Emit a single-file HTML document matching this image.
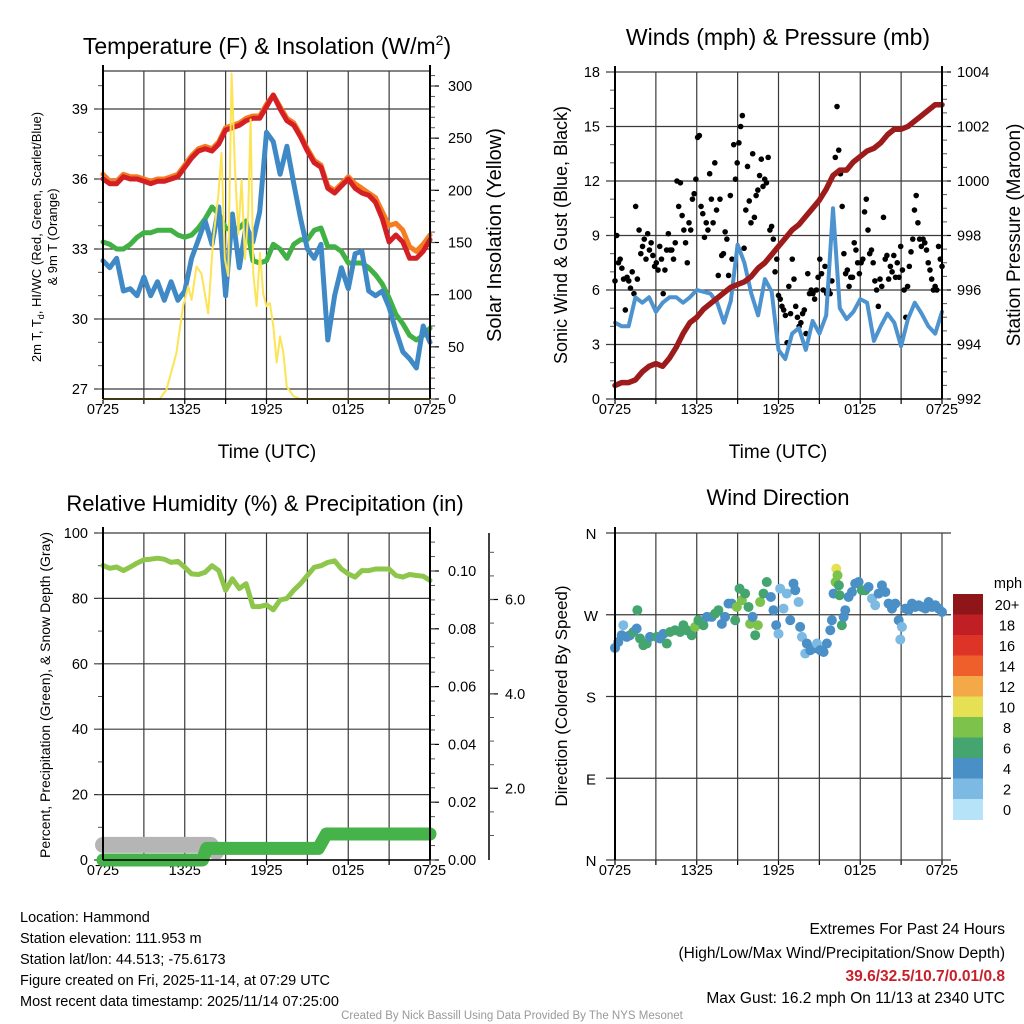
<!DOCTYPE html>
<html><head><meta charset="utf-8"><style>
html,body{margin:0;padding:0;background:#fff;}
svg{display:block;font-family:"Liberation Sans",sans-serif;}
</style></head><body>
<svg id="fig" width="1024" height="1024" viewBox="0 0 1024 1024" xmlns="http://www.w3.org/2000/svg">
<rect x="0" y="0" width="1024" height="1024" fill="#fff"/>
<g id="tl"></g>
<g id="tr"></g>
<g id="bl"></g>
<g id="br"></g>
<g id="txt">
<text x="20" y="922" font-size="14.5">Location: Hammond</text>
<text x="20" y="943" font-size="14.5">Station elevation: 111.953 m</text>
<text x="20" y="964" font-size="14.5">Station lat/lon: 44.513; -75.6173</text>
<text x="20" y="985" font-size="14.5">Figure created on Fri, 2025-11-14, at 07:29 UTC</text>
<text x="20" y="1006" font-size="14.5">Most recent data timestamp: 2025/11/14 07:25:00</text>
<text x="1005" y="934" font-size="15.5" text-anchor="end">Extremes For Past 24 Hours</text>
<text x="1005" y="958" font-size="15.5" text-anchor="end">(High/Low/Max Wind/Precipitation/Snow Depth)</text>
<text x="1005" y="981" font-size="15.5" text-anchor="end" font-weight="bold" fill="#c8202a">39.6/32.5/10.7/0.01/0.8</text>
<text x="1005" y="1003" font-size="15.5" text-anchor="end">Max Gust: 16.2 mph On 11/13 at 2340 UTC</text>
<text x="512" y="1019" font-size="11.5" text-anchor="middle" fill="#999">Created By Nick Bassill Using Data Provided By The NYS Mesonet</text>
</g>
</svg>
<script>
// ---- data (hours since 0725 UTC, half-hour steps unless noted) ----
const timeTicks = ["0725","1325","1925","0125","0725"];
const tempRed = [36.0,35.8,35.8,36.1,36.0,36.0,35.9,35.8,35.9,35.9,36.0,36.1,36.5,36.9,37.2,37.3,37.2,37.5,38.1,38.2,38.3,38.5,38.6,38.6,39.1,39.6,39.0,38.5,38.3,37.8,37.2,36.7,36.5,35.6,35.4,35.7,36.0,35.6,35.4,35.3,35.0,34.3,33.3,33.6,33.3,32.6,32.6,32.9,33.4];
const tempOrange = [36.2,35.9,35.9,36.2,36.1,36.1,36.0,35.9,36.0,36.0,36.1,36.2,36.6,37.0,37.3,37.4,37.3,37.6,38.2,38.3,38.4,38.6,38.7,38.7,39.2,39.6,39.1,38.6,38.4,37.9,37.3,36.8,36.6,35.7,35.5,35.8,36.1,35.8,35.6,35.4,35.2,34.6,34.0,34.1,33.8,33.1,32.9,33.2,33.6];
const tempGreen = [33.3,33.2,33.0,33.0,33.2,33.5,33.7,33.7,33.8,33.8,33.8,33.6,33.5,33.6,33.9,34.3,34.8,34.5,33.9,33.8,33.9,34.2,32.5,32.4,32.5,33.2,33.0,32.6,33.2,33.4,33.4,33.8,33.9,33.1,33.1,32.9,32.4,32.4,32.4,32.2,31.9,31.5,30.9,30.2,29.8,29.3,29.1,29.3,29.6];
const tempBlue = [32.5,32.2,32.6,31.2,31.3,31.0,31.8,31.0,31.6,30.8,31.6,30.8,31.2,32.6,33.4,34.2,33.2,34.8,31.0,34.5,32.2,34.0,33.3,34.6,38.0,37.6,36.2,37.4,35.8,34.3,33.0,32.6,33.2,29.1,31.0,32.2,31.3,32.8,32.9,31.2,31.0,31.2,30.5,29.5,28.6,28.3,27.9,29.7,29.0];
const solarTimes = [0,4.17,4.66,5.39,5.88,6.25,6.5,6.86,7.23,7.72,8.09,8.46,8.7,8.95,9.19,9.44,9.68,9.93,10.17,10.42,10.66,10.83,11.03,11.27,11.52,11.76,12.0,12.25,12.5,12.75,13.0,13.24,13.48,13.97,14.46,24];
const solarVals = [0,0,9,44,89,108,95,127,120,82,153,195,236,134,118,312,222,158,210,134,178,268,120,89,140,101,89,92,70,35,60,44,12,3,0,0];
const windSpeed = [4.2,4.0,4.0,5.6,5.3,5.6,4.8,5.3,5.6,5.6,5.3,5.6,6.0,5.9,5.8,5.3,4.2,5.4,8.5,7.5,5.8,4.6,6.6,5.9,2.7,2.2,3.6,3.9,2.7,4.3,3.6,4.6,10.5,5.0,4.4,4.8,5.5,5.3,3.2,4.0,4.7,4.2,2.9,4.4,5.3,4.7,4.0,3.6,4.8];
const pressure = [992.5,992.6,992.6,992.7,993.0,993.2,993.3,993.2,993.5,993.9,994.4,994.8,995.0,995.3,995.5,995.7,995.9,996.1,996.2,996.3,996.5,996.8,997.0,997.3,997.6,997.9,998.2,998.4,998.7,999.0,999.3,999.7,1000.2,1000.4,1000.4,1000.7,1000.9,1001.1,1001.2,1001.4,1001.7,1001.9,1001.9,1002.0,1002.2,1002.4,1002.6,1002.8,1002.8];
const gusts = [6.5,9.0,7.5,7.7,7.2,6.6,4.9,6.7,6.5,6.1,7.0,5.8,10.6,6.6,9.3,8.0,8.4,8.8,7.7,9.1,8.2,8.6,7.9,7.3,7.5,7.1,8.4,7.7,5.8,7.1,8.2,9.1,8.2,8.2,7.7,8.6,12.0,10.6,11.9,10.1,9.3,8.6,7.5,9.7,9.3,11.0,11.3,12.1,14.4,14.5,10.6,10.2,8.9,9.7,9.3,12.4,11.0,9.7,13.0,10.4,6.8,11.0,7.9,8.0,9.2,8.8,6.8,11.2,7.7,14.0,12.1,13.0,14.1,15.0,15.6,8.3,10.4,12.8,10.9,9.7,13.5,10.0,11.2,11.5,12.3,13.2,11.7,12.1,11.9,13.3,9.3,9.5,8.8,7.0,7.7,5.7,5.5,5.1,4.9,4.6,3.1,6.2,4.7,7.7,6.6,5.1,4.5,4.0,4.2,4.7,4.9,3.6,6.9,5.8,6.0,5.8,5.5,6.0,6.7,7.7,6.9,6.0,7.3,5.8,6.0,5.8,6.5,8.9,13.3,16.1,13.7,12.4,10.6,8.0,6.9,7.1,6.2,6.7,6.7,8.6,8.2,7.5,6.9,7.5,7.7,10.3,11.0,9.3,8.0,8.2,7.5,6.5,6.0,5.1,6.6,6.2,10.0,7.7,7.9,6.6,7.3,7.0,7.9,6.7,7.5,6.7,8.4,7.1,6.0,4.5,6.2,7.3,8.1,8.8,10.4,11.2,9.7,8.8,8.4,8.8,8.6,8.2,7.5,7.1,6.6,6.0,6.2,6.0,8.4,7.7,7.3];
const relHum = [90.1,89.2,89.6,88.5,89.6,90.8,91.8,92.0,92.3,92.0,91.0,91.3,89.5,87.5,87.3,88.0,90.0,88.5,82.5,86.0,83.0,84.5,77.5,77.5,78.0,76.5,79.5,80.0,82.5,84.5,87.0,89.5,90.0,91.0,91.5,89.0,87.5,86.5,88.5,88.5,89.0,89.0,89.0,87.0,86.5,87.3,87.0,86.8,85.5];
const precipTimes = [0,7.3,7.6,15.8,16.4,24];
const precipVals = [0,0,0.004,0.004,0.009,0.009];
const snowTimes = [0,7.9,8.3];
const snowVals = [0.8,0.8,0.65];
const dirTimes = [0,0.24,0.49,0.61,0.86,1.1,1.35,1.59,1.64,1.84,2.08,2.33,2.57,3.06,3.31,3.55,3.8,4.04,4.41,4.78,5.02,5.27,5.63,5.88,6.12,6.49,6.74,7.1,7.35,7.59,7.84,8.08,8.33,8.57,8.82,8.94,9.14,9.31,9.55,9.8,9.92,10.1,10.29,10.48,10.65,10.9,11.14,11.44,11.63,11.83,12.0,12.12,12.37,12.61,12.86,13.1,13.23,13.47,13.59,13.72,13.96,14.08,14.33,14.57,14.82,15.06,15.31,15.55,15.8,15.92,16.04,16.19,16.24,16.33,16.43,16.48,16.65,16.78,16.9,17.14,17.39,17.63,17.88,18.12,18.37,18.61,18.86,19.1,19.35,19.59,19.84,20.08,20.33,20.57,20.82,20.94,21.06,21.31,21.55,21.8,22.04,22.29,22.53,22.78,23.02,23.27,23.51,23.76,24.0];
const dirVals = [233.5,240,247.5,258.5,245.6,247.5,251,254.8,275,243.8,236.5,238.3,245.6,245.6,243.8,249,238.3,251,253,251,258.5,253,247.5,256.6,264,258.5,267.6,267.6,271.3,275,260,267.6,282.3,282.3,264,278.6,298.8,286,293.3,278.6,260,267.6,247.5,258.5,284,293.3,306,289.6,275,258.5,249,298.8,276.8,293.3,264,304.3,297,284,256.6,245.6,227.3,238.3,231,232.8,238.3,231,229,238.3,253,264,293.3,306,320.8,313.4,302.4,291.5,258.5,267.6,275,289.6,295,304.3,306,297,297,300.6,287.8,280.5,293.3,302.4,295,282.3,276.8,282.3,264,242.7,256.6,276.8,275,282.3,278.6,280.5,278.6,276.8,284,278.6,280.5,276.8,273];
const dirSpeed = [4,4,4,2.5,4,4,6,4,6,6,6,6,4,6,4,4,6,6,6,6,6,6,6,8,6,6,4,4,6,6,4,4,4,4,6,8,6,8,6,6,8,4,6,8,8,6,6,4,4,4,2.5,2.5,2.5,2.5,4,4,4,2.5,4,2.5,2.5,4,4,4,2.5,4,4,4,4,4,4,8,10,8,6,6,6,4,4,4,4,4,4,6,6,4,2.5,2.5,4,4,4,4,4,4,4,2.5,2.5,4,4,4,4,4,4,4,4,4,4,4,4];
const cbarLabels = ["20+","18","16","14","12","10","8","6","4","2","0"];
const cbarColors = ["#8e1518","#c01f25","#de3428","#ef5f2c","#f5a847","#e6e055","#7cc24b","#45a56e","#4a8fc6","#7cb9e3","#b6e3f8"];

const NS="http://www.w3.org/2000/svg";
function mk(tag, parent, attrs){const e=document.createElementNS(NS,tag);for(const k in attrs)e.setAttribute(k,attrs[k]);parent.appendChild(e);return e;}
function txt(parent,x,y,s,size,anchor,rot){const e=mk('text',parent,{x:x,y:y,'font-size':size,'text-anchor':anchor||'start'});if(rot)e.setAttribute('transform','rotate(-90 '+x+' '+y+')');e.textContent=s;return e;}
const GRID="#3a3a3a";

function frame(g,X0,X1,Y0,Y1,grid){
  for(let h=0;h<=24;h+=3){
    const x=X0+h*(X1-X0)/24;
    if(grid){const l=mk('line',g,{x1:x,y1:Y0,x2:x,y2:Y1,stroke:GRID,'stroke-width':1.2});
      }
    const t=mk('line',g,{x1:x,y1:Y1,x2:x,y2:Y1+5,stroke:'#000','stroke-width':1.2});
    
  }
  timeTicks.forEach((s,i)=>{const x=X0+i*6*(X1-X0)/24;const e=txt(g,x,Y1+15,s,14.5,'middle');
    });
}
function leftAxis(g,X0,X1,y,majors,minors,labels,fmt){
  majors.forEach(v=>{const yy=y(v);
    const gl=mk('line',g,{x1:X0-9,y1:yy,x2:X1,y2:yy,stroke:GRID,'stroke-width':1.2});
    
    if(labels){const e=txt(g,X0-15,yy+5,fmt(v),14.5,'end');}});
  minors.forEach(v=>{const yy=y(v);const t=mk('line',g,{x1:X0-5,y1:yy,x2:X0,y2:yy,stroke:'#555','stroke-width':1});
    });
}
function rightAxis(g,X,y,majors,minors,fmt,lx){
  majors.forEach(v=>{const yy=y(v);const t=mk('line',g,{x1:X,y1:yy,x2:X+9,y2:yy,stroke:'#000','stroke-width':1.2});
    
    const e=txt(g,lx,yy+5,fmt(v),14.5,'start');});
  minors.forEach(v=>{const yy=y(v);const t=mk('line',g,{x1:X,y1:yy,x2:X+5,y2:yy,stroke:'#555','stroke-width':1});
    });
}
function range(a,b,s){const r=[];for(let v=a;v<=b+1e-9;v+=s)r.push(+v.toFixed(4));return r;}
function path(g,xs,ys,color,w,name){
  let d='';xs.forEach((x,i)=>{d+=(i?'L':'M')+x.toFixed(1)+' '+ys[i].toFixed(1);});
  const p=mk('path',g,{d:d,fill:'none',stroke:color,'stroke-width':w,'stroke-linejoin':'round','stroke-linecap':'round'});
  return p;
}
const half=n=>Array.from({length:n},(_,i)=>i*24/(n-1));

// ---------- Top-left: temperature ----------
(function(){
  const g=document.getElementById('tl');
  const X0=103,X1=430,Y0=71,Y1=399;
  const x=t=>X0+t*(X1-X0)/24;
  const yT=v=>109+(39-v)*70/3;
  const yS=v=>399-v*313/300;
  frame(g,X0,X1,Y0,Y1,true);
  leftAxis(g,X0,X1,yT,[27,30,33,36,39],range(27,40,1),true,v=>String(v));
  const top=mk('line',g,{x1:X0,y1:Y0,x2:X1,y2:Y0,stroke:GRID,'stroke-width':1.2});
  rightAxis(g,X1,yS,range(0,300,50),range(0,310,10),v=>String(v),448);
  const ts=half(tempRed.length);
  path(g,ts.map(x),tempOrange.map(yT),'#f47d22',5,'temp-9m-orange-line');
  path(g,ts.map(x),tempRed.map(yT),'#d42024',5,'temp-2m-red-line');
  path(g,ts.map(x),tempGreen.map(yT),'#41b145',5,'dewpoint-green-line');
  path(g,ts.map(x),tempBlue.map(yT),'#3f8ac6',5,'windchill-blue-line');
  path(g,solarTimes.map(x),solarVals.map(yS),'#fde455',2,'solar-insolation-line');
  const ax=mk('line',g,{x1:X0,y1:Y0-6,x2:X0,y2:Y1,stroke:'#000','stroke-width':2});
  const ax2=mk('line',g,{x1:X1,y1:Y0-6,x2:X1,y2:Y1,stroke:'#000','stroke-width':2});
  const bt=mk('line',g,{x1:X0,y1:Y1,x2:X1,y2:Y1,stroke:'#000','stroke-width':1.5});
  const t1=mk('text',g,{x:267,y:54,'font-size':23,'text-anchor':'middle'});t1.innerHTML='Temperature (F) &amp; Insolation (W/m<tspan dy="-9" font-size="14">2</tspan><tspan dy="9">)</tspan>';
  
  const xt=txt(g,267,458,'Time (UTC)',19,'middle');
  const rt=txt(g,501,235,'Solar Insolation (Yellow)',20,'middle',true);
  const l1=mk('text',g,{x:41,y:237,'font-size':13,'text-anchor':'middle',transform:'rotate(-90 41 237)'});l1.innerHTML='2m T, T<tspan dy="3" font-size="9">d</tspan><tspan dy="-3">, HI/WC (Red, Green, Scarlet/Blue)</tspan>';
  
  const l2=txt(g,57,237,'& 9m T (Orange)',13,'middle',true);
})();

// ---------- Top-right: winds & pressure ----------
(function(){
  const g=document.getElementById('tr');
  const X0=615,X1=942,Y0=72,Y1=399;
  const x=t=>X0+t*(X1-X0)/24;
  const yW=v=>399-v*327/18;
  const yP=v=>399-(v-992)*327/12;
  frame(g,X0,X1,Y0,Y1,true);
  leftAxis(g,X0,X1,yW,[0,3,6,9,12,15,18],range(0,18,1),true,v=>String(v));
  rightAxis(g,X1,yP,range(992,1004,2),range(992,1004,0.5),v=>String(v),957);
  const gt=half(gusts.length);
  gusts.forEach((v,i)=>{const c=mk('circle',g,{cx:x(gt[i]),cy:yW(v),r:2.8,fill:'#000'});
    });
  const ts=half(windSpeed.length);
  path(g,ts.map(x),windSpeed.map(yW),'#4d93cf',4,'sonic-wind-line');
  path(g,half(pressure.length).map(x),pressure.map(yP),'#9e1b1b',5.5,'station-pressure-line');
  const ax=mk('line',g,{x1:X0,y1:Y0-6,x2:X0,y2:Y1,stroke:'#000','stroke-width':2});
  const ax2=mk('line',g,{x1:X1,y1:Y0-6,x2:X1,y2:Y1,stroke:'#000','stroke-width':2});
  const bt=mk('line',g,{x1:X0,y1:Y1,x2:X1,y2:Y1,stroke:'#000','stroke-width':1.5});
  const t1=txt(g,778,45,'Winds (mph) & Pressure (mb)',23,'middle');
  const xt=txt(g,778,458,'Time (UTC)',19,'middle');
  const lt=txt(g,567,235,'Sonic Wind & Gust (Blue, Black)',18,'middle',true);
  const rt=txt(g,1020,235,'Station Pressure (Maroon)',19,'middle',true);
})();

// ---------- Bottom-left: RH & precip ----------
(function(){
  const g=document.getElementById('bl');
  const X0=103,X1=430,Y0=533,Y1=860;
  const x=t=>X0+t*(X1-X0)/24;
  const yRH=v=>860-v*3.27;
  const yPr=v=>860-v*2890;
  const ySD=v=>882.7-v*47.2;
  frame(g,X0,X1,Y0,Y1,true);
  leftAxis(g,X0,X1,yRH,[0,20,40,60,80,100],range(0,100,10),true,v=>String(v));
  rightAxis(g,X1,yPr,range(0,0.1,0.02),range(0,0.11,0.005),v=>v.toFixed(2),448);
  const a3=mk('line',g,{x1:489,y1:Y0,x2:489,y2:Y1,stroke:'#000','stroke-width':1.5});
  [2,4,6].forEach(v=>{const yy=ySD(v);const t=mk('line',g,{x1:489,y1:yy,x2:498,y2:yy,stroke:'#000','stroke-width':1.2});
    
    const e=txt(g,505,yy+5,v.toFixed(1),14.5,'start');});
  range(1,7,0.5).forEach(v=>{const yy=ySD(v);if(yy<Y0||yy>Y1)return;const t=mk('line',g,{x1:489,y1:yy,x2:494,y2:yy,stroke:'#555','stroke-width':1});
    });
  path(g,snowTimes.map(x),snowVals.map(ySD),'#b5b5b5',16,'snow-depth-line');
  path(g,precipTimes.map(x),precipVals.map(yPr),'#45b24a',13,'precipitation-line');
  path(g,half(relHum.length).map(x),relHum.map(yRH),'#8dc64a',5,'relative-humidity-line');
  const ax=mk('line',g,{x1:X0,y1:Y0-6,x2:X0,y2:Y1,stroke:'#000','stroke-width':2});
  const ax2=mk('line',g,{x1:X1,y1:Y0-6,x2:X1,y2:Y1,stroke:'#000','stroke-width':2});
  const bt=mk('line',g,{x1:X0,y1:Y1,x2:X1,y2:Y1,stroke:'#000','stroke-width':1.5});
  const t1=txt(g,265,511,'Relative Humidity (%) & Precipitation (in)',22,'middle');
  const lt=txt(g,50,695,'Percent, Precipitation (Green), & Snow Depth (Gray)',14,'middle',true);
})();

// ---------- Bottom-right: wind direction ----------
(function(){
  const g=document.getElementById('br');
  const X0=615,X1=942,Y0=533,Y1=860;
  const x=t=>X0+t*(X1-X0)/24;
  const yD=d=>860-d*327/360;
  frame(g,X0,X1,Y0,Y1,true);
  const dl=['N','E','S','W','N'];
  [0,90,180,270,360].forEach((d,i)=>{const yy=yD(d);
    const gl=mk('line',g,{x1:X0-9,y1:yy,x2:X1+9,y2:yy,stroke:GRID,'stroke-width':1.2});
    const e=txt(g,591,yy+6,dl[i],15,'middle');});
  const colorFor=s=>cbarColors[10-Math.min(10,Math.round(s/2))];
  dirVals.forEach((d,i)=>{const c=mk('circle',g,{cx:x(dirTimes[i]),cy:yD(d),r:5,fill:colorFor(dirSpeed[i])});
    });
  const ax=mk('line',g,{x1:X0,y1:Y0-6,x2:X0,y2:Y1,stroke:'#000','stroke-width':2});
  const t1=txt(g,778,505,'Wind Direction',22,'middle');
  const lt=txt(g,567,696,'Direction (Colored By Speed)',17,'middle',true);
  const cb=mk('g',g,{});
  const h=20.5;
  cbarLabels.forEach((s,i)=>{const r=mk('rect',cb,{x:953,y:594+i*h,width:30,height:h+0.5,fill:cbarColors[i]});
    
    const e=txt(cb,1007,594+i*h+h/2+5.5,s,14.5,'middle');});
  const u=txt(cb,1008,588,'mph',14.5,'middle');
})();
</script>
</body></html>
